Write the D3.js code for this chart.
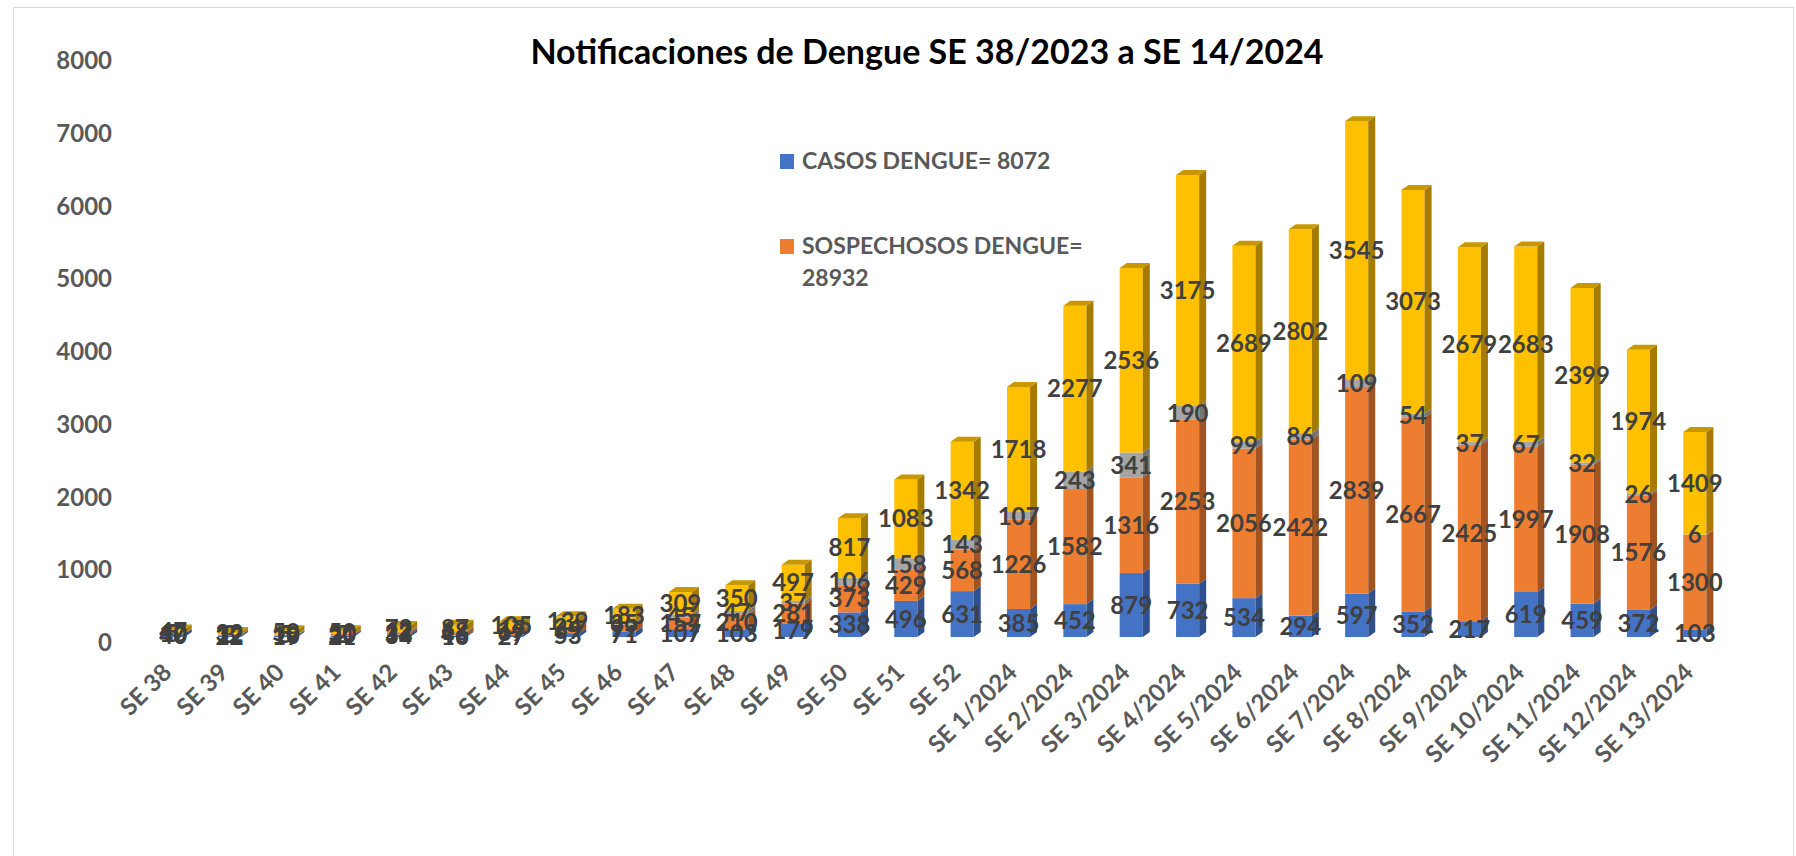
<!DOCTYPE html>
<html>
<head>
<meta charset="utf-8">
<script src="https://cdn.jsdelivr.net/npm/d3@7/dist/d3.min.js"></script>
<style>
    body { margin: 0; background: #fff; }
    svg text { font-family: Lato, "Open Sans", sans-serif; font-weight: bold; }
</style>
</head>
<body>
<div id="chart"></div>
<script>
var categories = ["SE 38", "SE 39", "SE 40", "SE 41", "SE 42", "SE 43", "SE 44", "SE 45", "SE 46", "SE 47",
    "SE 48", "SE 49", "SE 50", "SE 51", "SE 52", "SE 1/2024", "SE 2/2024", "SE 3/2024", "SE 4/2024", "SE 5/2024",
    "SE 6/2024", "SE 7/2024", "SE 8/2024", "SE 9/2024", "SE 10/2024", "SE 11/2024", "SE 12/2024", "SE 13/2024"];

// blue
var casos = [40, 22, 19, 21, 34, 16, 27, 53, 71, 107, 103, 179, 338, 496, 631, 385, 452, 879, 732, 534, 294, 597, 352, 217, 619, 459, 372, 103];
// orange
var sospechosos = [10, 12, 10, 20, 32, 46, 69, 69, 99, 157, 210, 281, 373, 429, 568, 1226, 1582, 1316, 2253, 2056, 2422, 2839, 2667, 2425, 1997, 1908, 1576, 1300];
// grey (no legend entry)
var serieGris = [5, 3, 5, 2, 12, 18, 17, 24, 35, 45, 47, 37, 106, 158, 143, 107, 243, 341, 190, 99, 86, 109, 54, 37, 67, 32, 26, 6];
// yellow (no legend entry)
var serieAmarilla = [47, 32, 59, 50, 72, 87, 105, 139, 183, 309, 350, 497, 817, 1083, 1342, 1718, 2277, 2536, 3175, 2689, 2802, 3545, 3073, 2679, 2683, 2399, 1974, 1409];

var yTicks = [0, 1000, 2000, 3000, 4000, 5000, 6000, 7000, 8000];
var legendLines = [["CASOS DENGUE= 8072"], ["SOSPECHOSOS DENGUE=", "28932"]];
var titleText = "Notificaciones de Dengue SE 38/2023 a SE 14/2024";

var keys = ["casos", "sospechosos", "gris", "amarilla"];
var colors = {
    casos: { front: "#4472C4", side: "#2F528F", top: "#3B64AD" },
    sospechosos: { front: "#ED7D31", side: "#A3531F", top: "#C8652A" },
    gris: { front: "#A5A5A5", side: "#747474", top: "#8C8C8C" },
    amarilla: { front: "#FFC000", side: "#A67C00", top: "#C99700" }
};

var svg = d3.select("#chart").append("svg").attr("width", 1796).attr("height", 856);

svg.append("rect")
    .attr("x", 13.5).attr("y", 7.5)
    .attr("width", 1780).attr("height", 900)
    .attr("fill", "#fff").attr("stroke", "#d9d9d9");

var x = d3.scaleBand().domain(categories).range([145, 1723]).paddingInner(0.59).paddingOuter(0.295);
var y = d3.scaleLinear().domain([0, 8000]).range([637, 55]);
var dx = 7, dy = -5;

var table = categories.map(function (c, i) {
    return { cat: c, casos: casos[i], sospechosos: sospechosos[i], gris: serieGris[i], amarilla: serieAmarilla[i] };
});
var stacked = d3.stack().keys(keys)(table);

// title
svg.append("text")
    .attr("x", 927).attr("y", 64)
    .attr("text-anchor", "middle")
    .attr("font-size", 34)
    .attr("fill", "#000")
    .text(titleText);

// y axis labels (no line, no grid)
var yAxis = svg.append("g")
    .attr("transform", "translate(112,6)")
    .call(d3.axisLeft(y).tickValues(yTicks).tickFormat(d3.format("d")).tickSize(0).tickPadding(0));
yAxis.select(".domain").remove();
yAxis.attr("font-family", null).attr("font-size", 24);
yAxis.selectAll("text").attr("fill", "#595959");

// 3d columns
var bw = x.bandwidth();
var g = svg.append("g");
stacked.forEach(function (layer, k) {
    var col = colors[layer.key];
    var seg = g.selectAll(".seg-" + layer.key)
        .data(layer)
        .enter().append("g")
        .attr("class", "seg-" + layer.key);

    seg.append("rect")
        .attr("x", function (d) { return x(d.data.cat); })
        .attr("y", function (d) { return y(d[1]); })
        .attr("width", bw)
        .attr("height", function (d) { return y(d[0]) - y(d[1]); })
        .attr("fill", col.front);

    seg.append("path")
        .attr("fill", col.side)
        .attr("d", function (d) {
            var x1 = x(d.data.cat) + bw, y0 = y(d[0]), y1 = y(d[1]);
            return "M" + x1 + "," + y1 + "L" + (x1 + dx) + "," + (y1 + dy) +
                "L" + (x1 + dx) + "," + (y0 + dy) + "L" + x1 + "," + y0 + "Z";
        });

    if (k === stacked.length - 1) {
        seg.append("path")
            .attr("fill", col.top)
            .attr("d", function (d) {
                var x0 = x(d.data.cat), y1 = y(d[1]);
                return "M" + x0 + "," + y1 + "L" + (x0 + dx) + "," + (y1 + dy) +
                    "L" + (x0 + bw + dx) + "," + (y1 + dy) + "L" + (x0 + bw) + "," + y1 + "Z";
            });
    }
});

// data labels
stacked.forEach(function (layer) {
    svg.append("g").selectAll("text")
        .data(layer)
        .enter().append("text")
        .attr("x", function (d) { return x(d.data.cat) + bw / 2; })
        .attr("y", function (d) { return y((d[0] + d[1]) / 2); })
        .attr("dy", "0.36em")
        .attr("text-anchor", "middle")
        .attr("font-size", 24)
        .attr("fill", "#404040")
        .text(function (d) { return d.data[layer.key]; });
});

// x axis, rotated labels
var xAxis = svg.append("g")
    .attr("transform", "translate(0,674)")
    .call(d3.axisBottom(x).tickSize(0).tickPadding(0));
xAxis.select(".domain").remove();
xAxis.attr("font-family", null).attr("font-size", 24);
xAxis.selectAll("text")
    .attr("y", 0)
    .attr("dy", 0)
    .attr("x", 0)
    .attr("transform", "rotate(-45)")
    .attr("text-anchor", "end")
    .attr("fill", "#595959");

// legend (only two entries shown in the original)
var legendColors = [colors.casos.front, colors.sospechosos.front];
var legend = svg.append("g").selectAll("g")
    .data(legendLines)
    .enter().append("g")
    .attr("transform", function (d, i) { return "translate(780," + (154 + i * 85) + ")"; });

legend.append("rect")
    .attr("width", 14).attr("height", 15)
    .attr("fill", function (d, i) { return legendColors[i]; });

legend.each(function (lines) {
    d3.select(this).selectAll("text")
        .data(lines)
        .enter().append("text")
        .attr("x", 22)
        .attr("y", function (d, j) { return 15 + j * 32; })
        .attr("font-size", 23)
        .attr("fill", "#595959")
        .text(function (d) { return d; });
});
</script>
</body>
</html>
